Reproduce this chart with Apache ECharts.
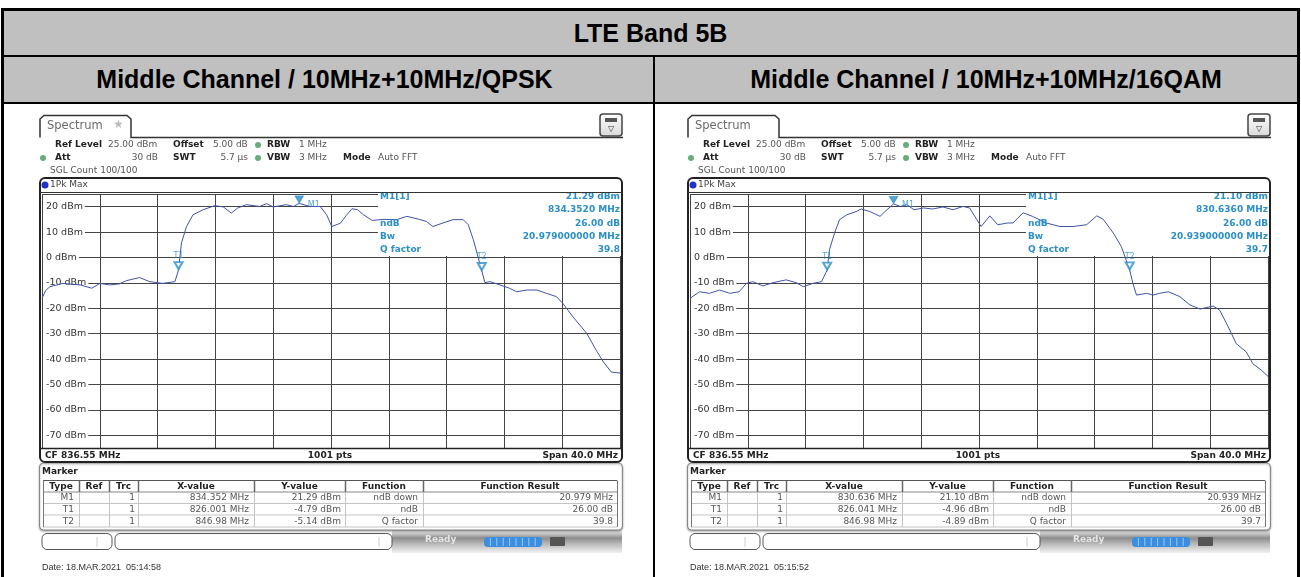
<!DOCTYPE html>
<html>
<head>
<meta charset="UTF-8">
<title>LTE Band 5B</title>
<script src="https://cdn.jsdelivr.net/npm/echarts@6.0.0/dist/echarts.min.js"></script>
<style type="text/css">
  body{margin:0;padding:0;background:#fff;}
  #page{position:relative;width:1301px;height:577px;overflow:hidden;font-family:"Liberation Sans",Arial,sans-serif;}
  #chart{position:absolute;left:0;top:0;width:1301px;height:577px;}
  .blk{position:absolute;background:#000;}
  .hd{position:absolute;background:#c0c0c0;color:#000;font-weight:bold;font-size:25px;text-align:center;box-sizing:border-box;}
</style>
</head>
<body>
<div id="page">
  <div id="chart"></div>
  <div class="hd" style="left:4px;top:11px;width:1293px;height:44px;line-height:44px;">LTE Band 5B</div>
  <div class="hd" style="left:4px;top:57px;width:649px;height:45px;line-height:45px;padding-right:8px;">Middle Channel / 10MHz+10MHz/QPSK</div>
  <div class="hd" style="left:655px;top:57px;width:642px;height:45px;line-height:45px;padding-left:20px;">Middle Channel / 10MHz+10MHz/16QAM</div>
  <div class="blk" style="left:1px;top:8px;width:1299px;height:3px;"></div>
  <div class="blk" style="left:1px;top:8px;width:3px;height:569px;"></div>
  <div class="blk" style="left:1297px;top:8px;width:3px;height:569px;"></div>
  <div class="blk" style="left:1px;top:55px;width:1299px;height:2px;"></div>
  <div class="blk" style="left:1px;top:102px;width:1299px;height:2px;"></div>
  <div class="blk" style="left:653px;top:55px;width:2px;height:522px;"></div>
</div>
<script type="text/javascript">
var CF = 836.55;          // centre frequency, MHz
var SPAN = 40;            // span, MHz

// left screenshot: 10MHz+10MHz/QPSK
var qpskFreq  = [816.55,816.8,817.1,818.0,819.2,820.0,820.55,821.25,821.9,822.4,823.3,824.0,824.9,825.75,826.0,826.2,826.55,827.0,827.7,828.5,829.1,829.65,830.1,830.7,831.6,832.1,832.55,833.45,833.95,834.35,835.1,835.8,836.25,836.6,837.2,837.6,838.0,838.4,838.8,839.4,840.15,841.1,841.8,842.6,843.15,843.6,844.3,845.0,845.7,846.05,846.4,846.98,847.2,847.55,848.25,848.9,849.4,850.1,850.8,851.45,852.15,852.6,853.3,854.25,854.9,855.4,855.95,856.55];
var qpskLevel = [-16.1,-13.0,-11.5,-10.2,-10.8,-12.1,-10.2,-10.8,-10.4,-9.1,-7.9,-9.5,-10.2,-9.5,-4.8,5.7,12.2,16.8,18.8,20.4,19.9,17.5,19.5,20.8,20.1,21.2,19.9,20.8,20.1,21.3,20.1,20.1,16.8,12.2,13.5,16.5,19.2,18.8,16.8,14.6,15.0,14.9,16.2,15.1,14.2,12.2,13.6,14.9,14.9,12.9,7.0,-5.1,-9.9,-9.5,-10.8,-12.1,-13.5,-12.8,-12.8,-14.1,-15.4,-18.1,-23.4,-29.9,-36.5,-41.1,-45.1,-45.5];

// right screenshot: 10MHz+10MHz/16QAM
var qamFreq  = [816.55,817.2,817.9,818.6,819.3,819.95,820.45,820.9,821.6,822.3,823.2,823.9,824.4,825.05,825.65,826.04,826.2,826.55,826.9,827.4,828.05,828.4,829.0,829.7,830.05,830.64,831.1,831.55,832.05,832.7,833.35,834.05,834.75,835.45,835.9,836.4,836.7,837.3,837.85,838.55,838.9,839.6,840.25,841.2,842.15,843.05,844.0,844.7,845.15,845.85,846.4,846.98,847.2,847.45,848.15,848.6,849.05,849.65,850.45,851.15,851.85,852.75,853.2,853.8,854.35,855.05,855.5,856.1,856.55];
var qamLevel = [-16.1,-13.5,-14.1,-12.8,-14.1,-13.5,-10.2,-9.5,-11.2,-9.9,-8.8,-9.9,-11.5,-10.2,-9.5,-5.0,3.0,9.6,14.9,16.8,18.1,19.1,18.1,16.2,18.1,21.1,20.1,20.8,18.8,19.5,19.1,19.9,18.8,20.1,19.5,14.9,12.2,16.4,12.9,13.6,13.6,17.6,16.2,13.6,12.2,12.2,12.9,16.4,15.0,9.6,4.3,-4.9,-10.2,-14.8,-14.1,-14.8,-14.1,-13.5,-15.4,-18.7,-20.3,-19.1,-20.7,-27.3,-33.9,-37.2,-41.8,-44.4,-46.8];

// marker table
var markerType      = ['M1','T1','T2'];
var markerFunction  = ['ndB down','ndB','Q factor'];
var qpskMarkerFreq  = ['834.352','826.001','846.98'];
var qpskMarkerLevel = [21.29,-4.79,-5.14];
var qpskResult      = ['20.979 MHz','26.00 dB','39.8'];
var qamMarkerFreq   = ['830.636','826.041','846.98'];
var qamMarkerLevel  = [21.10,-4.96,-4.89];
var qamResult       = ['20.939 MHz','26.00 dB','39.7'];
var ndB = [26.00, 26.00];
var bandwidth = [20.979, 20.939];
var qFactor = ['39.8', '39.7'];
var dates = ['Date: 18.MAR.2021  05:14:58', 'Date: 18.MAR.2021  05:15:52'];

var FONT = '"DejaVu Sans", Verdana, sans-serif';
var TEAL = '#2b8fc8';
var TRACE = '#4053a8';

function tx(x, y, s, o) {
  o = o || {};
  var a = o.a || 'left';
  return {type:'text', x:x, y:y, z:o.z || 20, silent:true,
    style:{text:s, font:(o.b ? 'bold ' : '') + (o.s || 9) + 'px ' + (o.f || FONT), fill:o.c || '#333',
      align:a, verticalAlign:'middle', textAlign:a, textVerticalAlign:'middle'}};
}
function ln(x1, y1, x2, y2, c, w, z) {
  return {type:'line', z:z || 15, silent:true, shape:{x1:x1, y1:y1, x2:x2, y2:y2}, style:{stroke:c, lineWidth:w || 1}};
}
function rc(x, y, w, h, r, st, z) {
  return {type:'rect', z:z || 15, silent:true, shape:{x:x, y:y, width:w, height:h, r:r}, style:st};
}
function dot(x, y, r, c) {
  return {type:'circle', z:20, silent:true, shape:{cx:x, cy:y, r:r}, style:{fill:c}};
}

function panel(k, dx, mFreq, mLevel, mResult, star) {
  var g = [];
  var X = function (v) { return v + dx; };
  // tab + header line
  g.push({type:'polyline', z:15, silent:true,
    shape:{points:[[40,137.5],[40,119],[44,115.5],[127,115.5],[131,119],[131,137.5],[623,137.5]].map(function (q) { return [q[0] + dx, q[1]]; })},
    style:{stroke:'#333', lineWidth:1.5, fill:null}});
  g.push(tx(X(47), 126, 'Spectrum', {s:11.5, c:'#6a6a6a'}));
  if (star) g.push(tx(X(113), 125, '★', {s:12, c:'#bbb'}));
  // menu button
  g.push(rc(X(600), 114, 22, 22, 3, {stroke:'#444', lineWidth:1.5,
    fill:new echarts.graphic.LinearGradient(0, 0, 0, 1, [{offset:0, color:'#fff'}, {offset:1, color:'#d8d8d8'}])}));
  g.push(rc(X(605), 118, 12, 4, 0, {fill:'#555'}, 16));
  g.push(tx(X(611), 129, '▽', {s:8, c:'#333', a:'center'}));

  // settings rows
  g.push(tx(X(55), 145, 'Ref Level', {b:1, c:'#222'}));
  g.push(tx(X(108), 145, '25.00 dBm', {c:'#555'}));
  g.push(tx(X(173), 145, 'Offset', {b:1, c:'#222'}));
  g.push(tx(X(213), 145, '5.00 dB', {c:'#555'}));
  g.push(dot(X(258), 145, 3, '#6aab7a'));
  g.push(tx(X(267), 145, 'RBW', {b:1, c:'#222'}));
  g.push(tx(X(299), 145, '1 MHz', {c:'#555'}));
  g.push(dot(X(43), 158, 3, '#6aab7a'));
  g.push(tx(X(55), 158, 'Att', {b:1, c:'#222'}));
  g.push(tx(X(158), 158, '30 dB', {c:'#555', a:'right'}));
  g.push(tx(X(173), 158, 'SWT', {b:1, c:'#222'}));
  g.push(tx(X(248), 158, '5.7 µs', {c:'#555', a:'right'}));
  g.push(dot(X(258), 158, 3, '#6aab7a'));
  g.push(tx(X(267), 158, 'VBW', {b:1, c:'#222'}));
  g.push(tx(X(299), 158, '3 MHz', {c:'#555'}));
  g.push(tx(X(343), 158, 'Mode', {b:1, c:'#222'}));
  g.push(tx(X(378), 158, 'Auto FFT', {c:'#555'}));
  g.push(tx(X(50), 171, 'SGL Count 100/100', {c:'#555'}));

  // diagram frame
  g.push(rc(X(40), 178, 582, 284, 5, {stroke:'#222', lineWidth:2, fill:null}, 25));
  g.push(ln(X(40), 192.5, X(622), 192.5, '#333', 1, 25));
  g.push(ln(X(40), 448.5, X(622), 448.5, '#222', 1.5, 25));
  g.push(dot(X(45), 185, 3.5, '#1f32c4'));
  g.push(tx(X(50), 185, '1Pk Max', {c:'#444'}));
  g.push(tx(X(45), 455.5, 'CF ' + CF.toFixed(2) + ' MHz', {b:1, c:'#222'}));
  g.push(tx(X(330), 455.5, '1001 pts', {b:1, c:'#222', a:'center'}));
  g.push(tx(X(618), 455.5, 'Span ' + SPAN.toFixed(1) + ' MHz', {b:1, c:'#222', a:'right'}));

  // marker info box inside the diagram (above grid, below trace)
  g.push(rc(X(378), 194, 243, 62, 0, {fill:'#fff'}, 1));
  g.push(tx(X(380), 197, 'M1[1]', {b:1, c:TEAL}));
  g.push(tx(X(380), 223.5, 'ndB', {b:1, c:TEAL}));
  g.push(tx(X(380), 237, 'Bw', {b:1, c:TEAL}));
  g.push(tx(X(380), 250, 'Q factor', {b:1, c:TEAL}));
  g.push(tx(X(620), 197, mLevel[0].toFixed(2) + ' dBm', {b:1, c:TEAL, a:'right'}));
  g.push(tx(X(620), 210, parseFloat(mFreq[0]).toFixed(4) + ' MHz', {b:1, c:TEAL, a:'right'}));
  g.push(tx(X(620), 223.5, ndB[k].toFixed(2) + ' dB', {b:1, c:TEAL, a:'right'}));
  g.push(tx(X(620), 237, bandwidth[k].toFixed(9) + ' MHz', {b:1, c:TEAL, a:'right'}));
  g.push(tx(X(620), 250, qFactor[k], {b:1, c:TEAL, a:'right'}));

  // marker table panel
  g.push(rc(X(39.5), 463, 583, 67, 4, {stroke:'#888', lineWidth:1, fill:'#fff', shadowBlur:2, shadowColor:'rgba(0,0,0,0.35)', shadowOffsetY:1}, 12));
  g.push(tx(X(42), 471.5, 'Marker', {b:1, c:'#222'}));
  var cols = [43, 79, 109, 138, 254, 345, 423, 617];
  var rows = [480.5, 492, 503.5, 515, 527];
  g.push(ln(X(cols[0]), rows[0], X(cols[7]), rows[0], '#555', 1, 16));
  g.push(ln(X(cols[0]), rows[1], X(cols[7]), rows[1], '#888', 1, 16));
  for (var r = 2; r < rows.length; r++) g.push(ln(X(cols[0]), rows[r], X(cols[7]), rows[r], '#c4c4c4', 1, 16));
  g.push(ln(X(cols[0]) + .5, rows[0], X(cols[0]) + .5, rows[4], '#777', 1, 16));
  g.push(ln(X(cols[7]) + .5, rows[0], X(cols[7]) + .5, rows[4], '#777', 1, 16));
  for (var c = 1; c < cols.length - 1; c++) {
    g.push(ln(X(cols[c]) + .5, rows[0], X(cols[c]) + .5, rows[1], '#666', 1.5, 16));
    g.push(ln(X(cols[c]) + .5, rows[1], X(cols[c]) + .5, rows[4], '#c4c4c4', 1, 16));
  }
  var heads = ['Type', 'Ref', 'Trc', 'X-value', 'Y-value', 'Function', 'Function Result'];
  heads.forEach(function (h, i) { g.push(tx(X((cols[i] + cols[i + 1]) / 2), 486.5, h, {b:1, c:'#222', a:'center'})); });
  for (var i = 0; i < 3; i++) {
    var y = 498 + i * 11.6;
    g.push(tx(X(74), y, markerType[i], {c:'#555', a:'right'}));
    g.push(tx(X(135), y, '1', {c:'#555', a:'right'}));
    g.push(tx(X(249), y, mFreq[i] + ' MHz', {c:'#555', a:'right'}));
    g.push(tx(X(341), y, mLevel[i].toFixed(2) + ' dBm', {c:'#555', a:'right'}));
    g.push(tx(X(418), y, markerFunction[i], {c:'#555', a:'right'}));
    g.push(tx(X(613), y, mResult[i], {c:'#555', a:'right'}));
  }

  // status bar
  g.push(rc(X(392), 530, 230, 23, 0, {fill:new echarts.graphic.LinearGradient(0, 0, 0, 1, [
    {offset:0, color:'#f4f4f4'}, {offset:0.35, color:'#8d8d8d'}, {offset:0.6, color:'#b8b8b8'}, {offset:1, color:'#f2f2f2'}])}, 10));
  g.push(rc(X(42), 533.5, 70, 16, 5, {stroke:'#555', lineWidth:1, fill:'#fff'}, 14));
  g.push(ln(X(97), 537, X(97), 547, '#ccc', 1, 15));
  g.push(rc(X(115), 533.5, 277, 16, 5, {stroke:'#555', lineWidth:1, fill:'#fff'}, 14));
  g.push(ln(X(379), 537, X(379), 547, '#ccc', 1, 15));
  g.push(tx(X(425), 540, 'Ready', {b:1, c:'#e6e6e6'}));
  g.push(rc(X(484), 537, 58, 10, 4, {fill:'#3a8de0'}, 15));
  for (var s = 1; s < 9; s++) g.push(ln(X(484 + s * 6.4), 538, X(484 + s * 6.4), 546, '#9cc8f2', 1, 16));
  g.push(rc(X(550), 537, 15, 9, 1, {fill:'#555'}, 15));

  g.push(tx(X(42), 568, dates[k], {s:9, c:'#333', f:'"Liberation Sans", Arial, sans-serif'}));
  return g;
}

function traceData(freq, level) {
  return freq.map(function (f, i) { return [+(f - CF).toFixed(3), level[i]]; });
}
function markerData(mFreq, mLevel) {
  return markerType.map(function (t, i) {
    var first = i === 0;
    return {
      name:t,
      value:[+(parseFloat(mFreq[i]) - CF).toFixed(3), mLevel[i]],
      symbol:first ? 'triangle' : 'emptyTriangle',
      label:first ? {show:true, position:'right', offset:[-1, 5], formatter:t, color:TEAL, fontSize:8, fontFamily:FONT}
                  : {show:true, position:'top', distance:1, formatter:t, color:TEAL, fontSize:8, fontFamily:FONT}
    };
  });
}

function xAxis(i) {
  return {type:'value', gridIndex:i, min:-SPAN / 2, max:SPAN / 2, interval:4,
    axisLine:{show:false}, axisTick:{show:false}, axisLabel:{show:false},
    splitLine:{show:true, lineStyle:{color:'#444', width:1}}};
}
function yAxis(i) {
  return {type:'value', gridIndex:i, min:-75, max:25, splitNumber:10,
    axisLine:{show:false}, axisTick:{show:false},
    axisLabel:{inside:true, margin:1, color:'#333', fontSize:9.5, fontFamily:FONT,
      backgroundColor:'#fff', padding:[0, 2, 0, 3],
      formatter:function (v) { return v % 10 === 0 ? v + ' dBm' : ''; }},
    splitLine:{show:true, lineStyle:{color:'#444', width:1}}};
}

var chart = echarts.init(document.getElementById('chart'));
var option = {
  animation:false,
  backgroundColor:'transparent',
  grid:[
    {left:42, top:194, width:578, height:254},
    {left:690, top:194, width:578, height:254}
  ],
  xAxis:[xAxis(0), xAxis(1)],
  yAxis:[yAxis(0), yAxis(1)],
  series:[
    {type:'line', name:'1Pk Max', xAxisIndex:0, yAxisIndex:0, data:traceData(qpskFreq, qpskLevel),
      showSymbol:false, symbol:'none', z:3, lineStyle:{color:TRACE, width:1}},
    {type:'line', name:'1Pk Max', xAxisIndex:1, yAxisIndex:1, data:traceData(qamFreq, qamLevel),
      showSymbol:false, symbol:'none', z:3, lineStyle:{color:TRACE, width:1}},
    {type:'scatter', xAxisIndex:0, yAxisIndex:0, data:markerData(qpskMarkerFreq, qpskMarkerLevel),
      symbolRotate:180, symbolSize:[8, 7], symbolOffset:[0, -4], z:4,
      itemStyle:{color:TEAL, borderColor:TEAL, borderWidth:1}},
    {type:'scatter', xAxisIndex:1, yAxisIndex:1, data:markerData(qamMarkerFreq, qamMarkerLevel),
      symbolRotate:180, symbolSize:[8, 7], symbolOffset:[0, -4], z:4,
      itemStyle:{color:TEAL, borderColor:TEAL, borderWidth:1}}
  ],
  graphic:{elements:[].concat(
    panel(0, 0, qpskMarkerFreq, qpskMarkerLevel, qpskResult, true),
    panel(1, 648, qamMarkerFreq, qamMarkerLevel, qamResult, false)
  )}
};
chart.setOption(option);
</script>
</body>
</html>
